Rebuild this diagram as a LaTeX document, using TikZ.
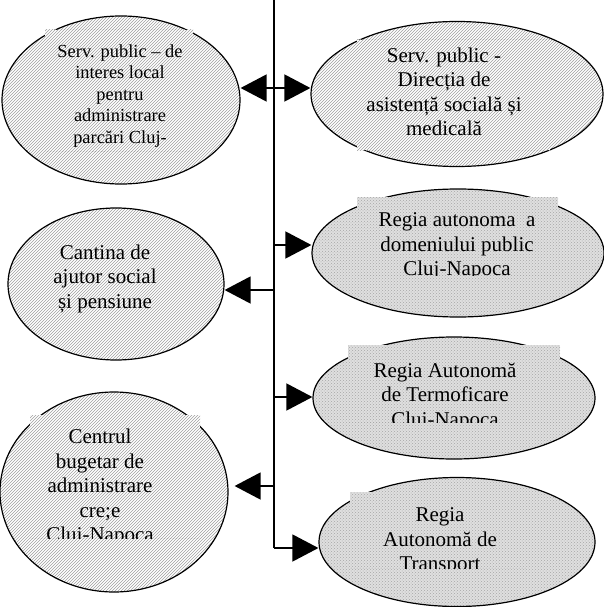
\documentclass[tikz,border=0pt]{standalone}
\usepackage{fontspec}
\setmainfont{Liberation Serif}
\usetikzlibrary{shapes.geometric,patterns,arrows.meta}
\tikzset{
  ell/.style={ellipse, draw=black, line width=1.2pt, inner sep=0pt},
  hatch/.style={preaction={fill=white}, pattern=north east lines, pattern color=gray!75},
  checks/.style={preaction={fill=gray!25}, pattern=crosshatch dots, pattern color=gray!70},
  txt/.style={align=center, inner sep=0pt, anchor=north, font=\fontsize{21}{24.5}\selectfont},
  small/.style={font=\fontsize{18.4}{21.5}\selectfont},
  arr/.style={line width=1.5pt, -{Triangle[length=26pt,width=27pt]}},
  bus/.style={line width=1.2pt}
}
\begin{document}
\begin{tikzpicture}[x=1pt,y=-1pt]
\useasboundingbox (0,0) rectangle (604,607);
% bus
\coordinate (top) at (274,0);
\coordinate (bot) at (274,548);
\draw[bus] (top) -- (bot);
% ellipses
\node[ell, hatch, minimum width=238, minimum height=168] (e1) at (121,100) {};
\node[ell, hatch, minimum width=292, minimum height=145] (e2) at (457,94) {};
\node[ell, checks, minimum width=292, minimum height=128] (e3) at (458,253) {};
\node[ell, hatch, minimum width=216, minimum height=152] (e4) at (116,284) {};
\node[ell, checks, minimum width=282, minimum height=122] (e5) at (454,398) {};
\node[ell, hatch, minimum width=228, minimum height=200] (e6) at (114,492) {};
\node[ell, checks, minimum width=276, minimum height=129] (e7) at (457,542) {};
% text boxes
\begin{scope}
\clip (45,30) rectangle (193,151);
\fill[hatch] (45,30) rectangle (193,151);
\node[txt, small] (t1) at (120,44.5) {Serv. public -- de\\interes local\\pentru\\administrare\\parcări Cluj-\\Napoca};
\end{scope}
\begin{scope}
\clip (357,40) rectangle (550,150);
\fill[hatch] (357,40) rectangle (550,150);
\node[txt] (t2) at (444,47.5) {Serv. public -\\Direcția de\\asistență socială și\\medicală};
\end{scope}
\begin{scope}
\clip (357,197) rectangle (558,275);
\fill[checks] (357,197) rectangle (558,275);
\node[txt] (t3) at (457,212.5) {Regia autonoma\ \ a\\domeniului public\\Cluj-Napoca};
\end{scope}
\node[txt] (t4) at (105,244.5) {Cantina de\\ajutor social\\și pensiune};
\begin{scope}
\clip (348,345) rectangle (560,422);
\fill[checks] (348,345) rectangle (560,422);
\node[txt] (t5) at (445,362.5) {Regia Autonomă\\de Termoficare\\Cluj-Napoca};
\end{scope}
\begin{scope}
\clip (30,415) rectangle (200,538);
\fill[hatch] (30,415) rectangle (200,538);
\node[txt] (t6) at (100,429) {Centrul\\bugetar de\\administrare\\cre;e\\Cluj-Napoca};
\end{scope}
\begin{scope}
\clip (350,492) rectangle (527,568);
\fill[checks] (350,492) rectangle (527,568);
\node[txt] (t7) at (440,507.5) {Regia\\Autonomă de\\Transport};
\end{scope}
% bus taps
\coordinate (b1) at (274,88);
\coordinate (b3) at (274,245);
\coordinate (b4) at (274,290);
\coordinate (b5) at (274,397);
\coordinate (b6) at (274,486);
\coordinate (b7) at (274,548);
\draw[arr] (b1) -- (b1 -| e1.east);
\draw[arr] (b1) -- (b1 -| e2.west);
\draw[arr] (b3) -- (b3 -| e3.west);
\draw[arr] (b4) -- (b4 -| e4.east);
\draw[arr] (b5) -- (b5 -| e5.west);
\draw[arr, shorten >=6pt] (b6) -- (b6 -| e6.east);
\draw[arr] (b7) -- (b7 -| e7.west);
\end{tikzpicture}
\end{document}
